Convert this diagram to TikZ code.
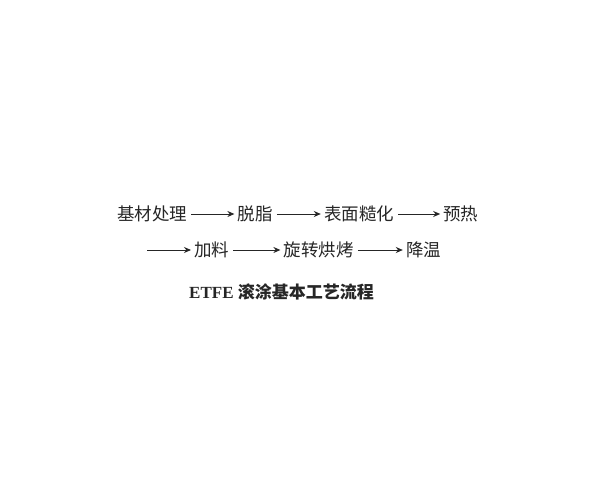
\documentclass[tikz,border=0pt]{standalone}
\usepackage{fontspec}
\setmainfont{Liberation Serif}
\newfontfamily\cjk{Noto Sans CJK SC}
\usetikzlibrary{positioning,arrows.meta}

\tikzset{
  stage/.style={font=\cjk\fontsize{17.5}{20}\selectfont, inner sep=2pt, text=black!85},
  flow/.style={-{Stealth[length=7pt,width=6pt]}, line width=1pt, black!85,
    shorten <=2pt, shorten >=1pt}
}

\begin{document}
\begin{tikzpicture}[x=1pt,y=1pt]
\useasboundingbox[fill=white] (0,0) rectangle (600,-495);
% first row
\node[stage, anchor=west] (jicai) at (115,-214) {基材处理};
\node[stage, right=46pt of jicai] (tuozhi) {脱脂};
\node[stage, right=47pt of tuozhi] (cuhua) {表面糙化};
\node[stage, right=45pt of cuhua] (yure) {预热};
\draw[flow] (jicai) -- (tuozhi);
\draw[flow] (tuozhi) -- (cuhua);
\draw[flow] (cuhua) -- (yure);
% second row
\coordinate (start) at (145,-250);
\node[stage, anchor=west] (jialiao) at (192,-250) {加料};
\node[stage, right=50pt of jialiao] (hongkao) {旋转烘烤};
\node[stage, right=48pt of hongkao] (jiangwen) {降温};
\draw[flow] (start) -- (jialiao);
\draw[flow] (jialiao) -- (hongkao);
\draw[flow] (hongkao) -- (jiangwen);
% caption
\node[anchor=west, inner sep=0pt, text=black!85] (caption) at (189,-292)
  {\fontsize{17}{20}\selectfont\bfseries ETFE\ {\cjk 滚涂基本工艺流程}};
\end{tikzpicture}
\end{document}
